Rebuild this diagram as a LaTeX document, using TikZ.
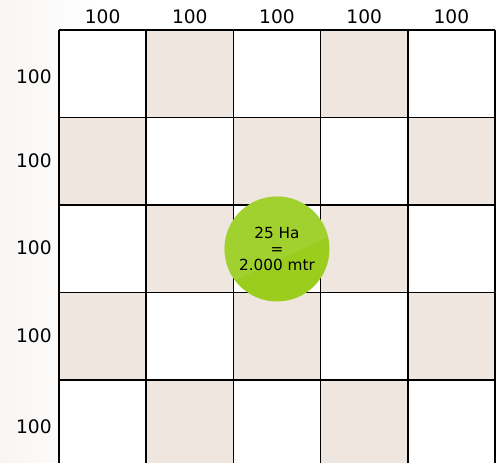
\documentclass[tikz,border=0pt]{standalone}
\usepackage{fontspec}
\setmainfont{DejaVu Sans}
\definecolor{plotshade}{HTML}{F0E6E0}
\definecolor{paper}{HTML}{F8F6F4}
\definecolor{hagreen}{HTML}{9ACD1E}
\definecolor{hagreenlight}{HTML}{A8D53E}
\tikzset{
  sizelabel/.style={inner sep=0pt,font=\fontsize{10.6}{12}\selectfont},
  areadot/.style={circle,fill=hagreen,minimum size=2.1cm,inner sep=0pt}
}
\begin{document}
\begin{tikzpicture}[x=0.02cm,y=-0.02cm]
	\useasboundingbox (0,0) rectangle (497,463);
	\shade[left color=paper,right color=white] (0,0) rectangle (100,463);
	\begin{scope}
		\clip (0,0) rectangle (497,463);
		% plots, shaded where row+column is odd
		\foreach \r in {0,...,4}
			\foreach \c in {0,...,4}{
				\pgfmathtruncatemacro{\odd}{mod(\r+\c,2)}
				\ifnum\odd=1
					\fill[plotshade] (59+87.2*\c,30+87.5*\r) rectangle +(87.2,87.5);
				\else
					\fill[white] (59+87.2*\c,30+87.5*\r) rectangle +(87.2,87.5);
				\fi
			}
		\foreach \c in {0,...,5}
			\draw[line width=0.8pt] (59+87.2*\c,30) -- (59+87.2*\c,470);
		\foreach \r in {0,...,5}
			\draw[line width=0.8pt] (59,30+87.5*\r) -- (495,30+87.5*\r);
	\end{scope}

	\foreach \c in {1,...,5}
		\node[sizelabel] (top\c) at (15.4+87.2*\c,17) {100};
	\foreach \r/\y in {1/77,2/161,3/248,4/336,5/427}
		\node[sizelabel,anchor=east] (side\r) at (52,\y) {100};

	\node[areadot] (area) at (277,249) {};
	\begin{scope}
		\clip (area.center) circle (1.05cm);
		\fill[hagreenlight,opacity=0.5] (200,170) -- (360,170) -- (360,222) -- (200,297) -- cycle;
	\end{scope}
	\node[align=center,inner sep=0pt,font=\fontsize{8.7}{9}\selectfont] (areatext) at (area) {25 Ha\\=\\2.000 mtr};
\end{tikzpicture}
\end{document}
